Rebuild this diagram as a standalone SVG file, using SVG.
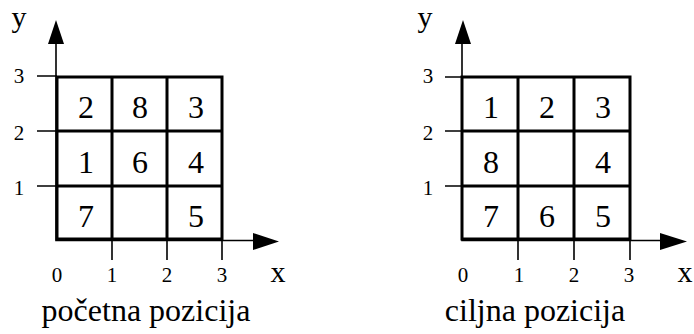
<svg xmlns="http://www.w3.org/2000/svg" width="694" height="334" viewBox="0 0 694 334">
<style>
.grid{fill:none;stroke:#000;stroke-width:3}
.ax{stroke:#000;stroke-width:1.6;fill:none}
.ah{fill:#000;stroke:none}
text{font-family:"Liberation Serif","Times New Roman",serif;fill:#000}
.d{font-size:32px;text-anchor:middle}
.t{font-size:21px;text-anchor:middle}
.v{font-size:30px;text-anchor:middle}
.cap{font-size:32px;text-anchor:middle}
</style>
<rect width="694" height="334" fill="#fff"/>
<g id="connectors">
  <path class="ax" d="M56,40 V240.5 H256"/>
  <path class="ax" d="M37,76 H57 M37,131 H57 M37,186 H57 M112,239 V260 M167,239 V260 M222,239 V260"/>
  <polygon class="ah" points="56,20 48,44 64,44"/>
  <polygon class="ah" points="279,241.5 253,233 253,250"/>
  <path class="ax" d="M462,40 V240.5 H662"/>
  <path class="ax" d="M445,77 H462 M445,131 H462 M445,186 H462 M518,239 V260 M574,239 V260 M630,239 V260"/>
  <polygon class="ah" points="463,20 455,44 471,44"/>
  <polygon class="ah" points="687,241.5 660,233 660,250"/>
</g>
<g id="left-grid">
  <rect class="grid" x="57" y="77" width="165" height="162"/>
  <path class="grid" d="M112,77 V239 M167,77 V239 M57,131 H222 M57,186 H222"/>
</g>
<g id="left-labels">
  <text class="v" x="19" y="27">y</text>
  <text class="t" x="19" y="83">3</text>
  <text class="t" x="19" y="140">2</text>
  <text class="t" x="19" y="195">1</text>
  <text class="t" x="57" y="282">0</text>
  <text class="t" x="112" y="282">1</text>
  <text class="t" x="167" y="282">2</text>
  <text class="t" x="222" y="282">3</text>
  <text class="v" x="278" y="282">x</text>
  <text class="cap" x="146" y="321">početna pozicija</text>
</g>
<g id="left-tiles">
  <text class="d" x="86" y="118">2</text>
  <text class="d" x="140" y="118">8</text>
  <text class="d" x="196" y="118">3</text>
  <text class="d" x="86" y="173">1</text>
  <text class="d" x="140" y="173">6</text>
  <text class="d" x="196" y="173">4</text>
  <text class="d" x="86" y="227">7</text>
  <text class="d" x="196" y="227">5</text>
</g>
<g id="right-grid">
  <rect class="grid" x="462" y="77" width="168" height="162"/>
  <path class="grid" d="M518,77 V239 M574,77 V239 M462,131 H630 M462,186 H630"/>
</g>
<g id="right-labels">
  <text class="v" x="425" y="27">y</text>
  <text class="t" x="428" y="83">3</text>
  <text class="t" x="428" y="140">2</text>
  <text class="t" x="428" y="195">1</text>
  <text class="t" x="463" y="282">0</text>
  <text class="t" x="519" y="282">1</text>
  <text class="t" x="574" y="282">2</text>
  <text class="t" x="629" y="282">3</text>
  <text class="v" x="685" y="282">x</text>
  <text class="cap" x="535" y="321">ciljna pozicija</text>
</g>
<g id="right-tiles">
  <text class="d" x="491" y="118">1</text>
  <text class="d" x="547" y="118">2</text>
  <text class="d" x="603" y="118">3</text>
  <text class="d" x="491" y="173">8</text>
  <text class="d" x="603" y="173">4</text>
  <text class="d" x="491" y="227">7</text>
  <text class="d" x="547" y="227">6</text>
  <text class="d" x="603" y="227">5</text>
</g>
</svg>
